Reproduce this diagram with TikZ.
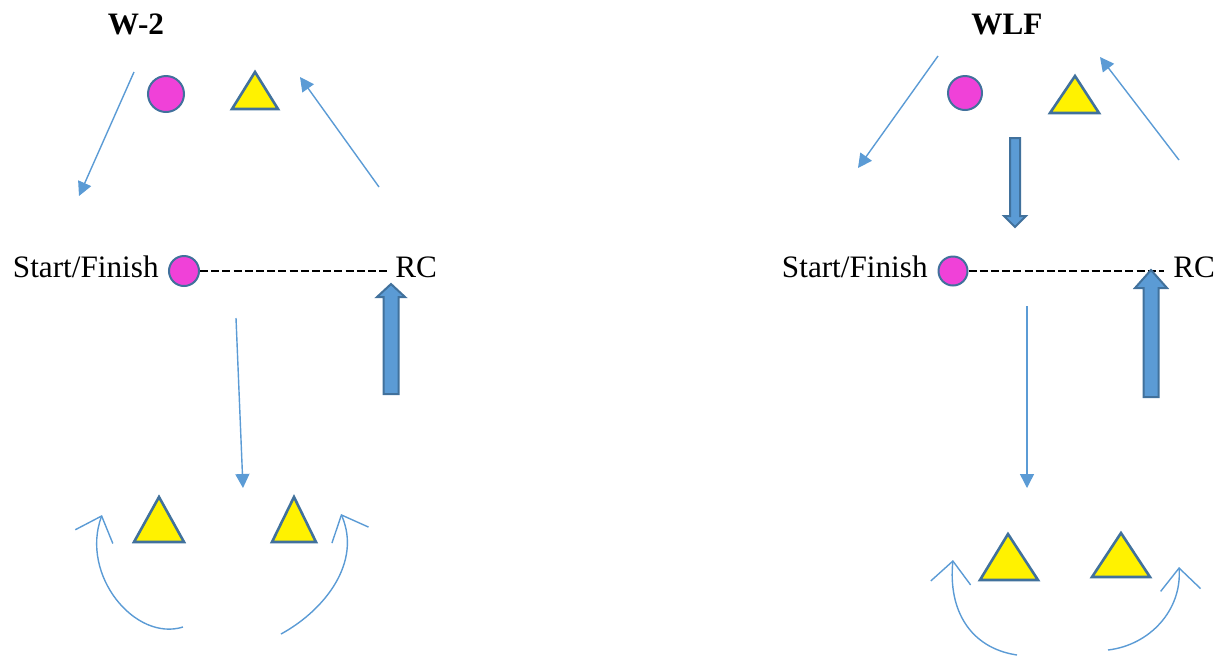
\documentclass[tikz,border=0pt]{standalone}
\usepackage{fontspec}
\setmainfont{Liberation Serif}
\usetikzlibrary{arrows.meta}

\definecolor{dotpink}{RGB}{240,65,216}
\definecolor{edgeblue}{RGB}{65,113,156}
\definecolor{arrowblue}{RGB}{91,155,213}

\begin{document}
\begin{tikzpicture}[x=0.5pt,y=-0.5pt]
\tikzset{
  marker/.style={circle,draw=edgeblue,fill=dotpink,line width=1pt,inner sep=0pt,minimum size=#1},
  tri/.style={draw=edgeblue,fill=yellow,line width=1.3pt,line join=miter},
  pointer/.style={arrowblue,line width=0.7pt,-{Triangle[length=7pt,width=7pt]}},
  curl/.style={arrowblue,line width=0.7pt,-{Straight Barb[length=11pt,width=20pt]}},
  block/.style={draw=edgeblue,fill=arrowblue,line width=1pt},
  dashline/.style={black,line width=1pt,dash pattern=on 4pt off 1.6pt},
  lbl/.style={inner sep=0pt,font=\fontsize{15.6}{18}\selectfont},
  title/.style={inner sep=0pt,font=\bfseries\fontsize{15.6}{18}\selectfont},
}
\useasboundingbox (0,0) rectangle (1222,655);

% left panel: W-2
\node[title,anchor=base] (wtwo) at (136,34) {W-2};
\node[marker=18pt] (ltopdot) at (166,94) {};
\draw[tri] (255,72) -- (278,109) -- (232,109) -- cycle;
\coordinate (lsw1) at (134,72);
\coordinate (lsw2) at (79,196);
\draw[pointer] (lsw1) -- (lsw2);
\coordinate (lne1) at (379,187);
\coordinate (lne2) at (300,77);
\draw[pointer] (lne1) -- (lne2);

\node[marker=15pt] (lstart) at (184,271) {};
\node[lbl,anchor=base east] (lsflabel) at (159,277) {Start/Finish};
\node[lbl,anchor=base west] (lrc) at (395,277) {RC};
\coordinate (ldashend) at (389,271);
\draw[dashline] (lstart.east) -- (ldashend);
\draw[block] (383.5,394) -- (383.5,297) -- (377,297) -- (391,284)
  -- (405,297) -- (398.5,297) -- (398.5,394) -- cycle;
\coordinate (ldown1) at (236,318);
\coordinate (ldown2) at (243,488);
\draw[pointer] (ldown1) -- (ldown2);

\draw[tri] (159,497) -- (184,542) -- (134,542) -- cycle;
\draw[tri] (294,497) -- (316,542) -- (272,542) -- cycle;
\coordinate (lcurl1) at (183,627);
\coordinate (lcurl2) at (102,515);
\draw[curl] (lcurl1) .. controls (135,642) and (80,575) .. (lcurl2);
\coordinate (rcurl1) at (281,634);
\coordinate (rcurl2) at (341,514);
\draw[curl] (rcurl1) .. controls (325,610) and (362,562) .. (rcurl2);

% right panel: WLF
\node[title,anchor=base] (wlf) at (1007,34) {WLF};
\node[marker=17pt] (rtopdot) at (965,93) {};
\draw[tri] (1075,76) -- (1099,113) -- (1050,113) -- cycle;
\coordinate (rsw1) at (938,56);
\coordinate (rsw2) at (858,168);
\draw[pointer] (rsw1) -- (rsw2);
\coordinate (rne1) at (1179,160);
\coordinate (rne2) at (1100,57);
\draw[pointer] (rne1) -- (rne2);
\draw[block] (1010,138) -- (1010,216) -- (1004,216) -- (1015,227)
  -- (1026,216) -- (1020,216) -- (1020,138) -- cycle;

\node[marker=14.5pt] (rstart) at (953,271) {};
\node[lbl,anchor=base east] (rsflabel) at (928,277) {Start/Finish};
\node[lbl,anchor=base west] (rrc) at (1173,277) {RC};
\coordinate (rdashend) at (1164,271);
\draw[dashline] (rstart.east) -- (rdashend);
\draw[block] (1143.5,397) -- (1143.5,288) -- (1135,288) -- (1151,270)
  -- (1167,288) -- (1158.5,288) -- (1158.5,397) -- cycle;
\coordinate (rdown1) at (1027,306);
\coordinate (rdown2) at (1027,488);
\draw[pointer] (rdown1) -- (rdown2);

\draw[tri] (1008,534) -- (1038,580) -- (980,580) -- cycle;
\draw[tri] (1121,533) -- (1150,577) -- (1092,577) -- cycle;
\coordinate (lcurl3) at (1017,655);
\coordinate (lcurl4) at (953,560);
\draw[curl] (lcurl3) .. controls (970,648) and (948,610) .. (lcurl4);
\coordinate (rcurl3) at (1108,650);
\coordinate (rcurl4) at (1179,567);
\draw[curl] (rcurl3) .. controls (1150,645) and (1182,610) .. (rcurl4);
\end{tikzpicture}
\end{document}
